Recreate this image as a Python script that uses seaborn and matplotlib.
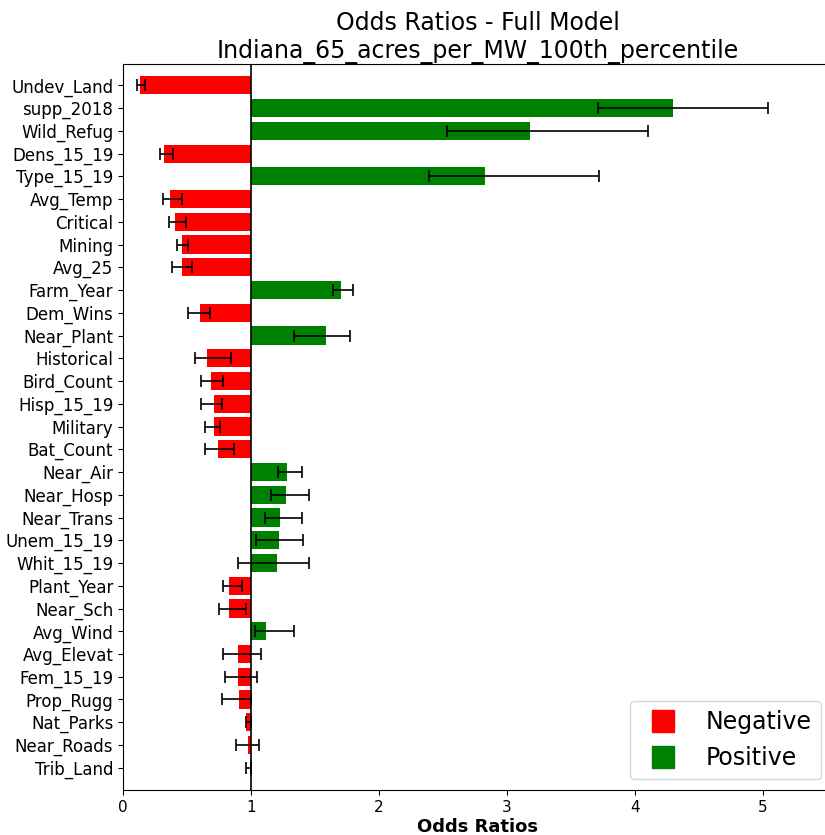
import matplotlib
matplotlib.use("Agg")
import matplotlib.pyplot as plt
from matplotlib.lines import Line2D
import numpy as np
import pandas as pd
import seaborn as sns

# Predictors, top to bottom
labels = ["Undev_Land", "supp_2018", "Wild_Refug", "Dens_15_19", "Type_15_19",
          "Avg_Temp", "Critical", "Mining", "Avg_25", "Farm_Year", "Dem_Wins",
          "Near_Plant", "Historical", "Bird_Count", "Hisp_15_19", "Military",
          "Bat_Count", "Near_Air", "Near_Hosp", "Near_Trans", "Unem_15_19",
          "Whit_15_19", "Plant_Year", "Near_Sch", "Avg_Wind", "Avg_Elevat",
          "Fem_15_19", "Prop_Rugg", "Nat_Parks", "Near_Roads", "Trib_Land"]

# Odds ratios and their confidence limits
odds = [0.13, 4.30, 3.18, 0.32, 2.83,
        0.37, 0.41, 0.46, 0.46, 1.70, 0.60,
        1.59, 0.66, 0.69, 0.71, 0.71,
        0.74, 1.28, 1.27, 1.23, 1.22,
        1.20, 0.83, 0.83, 1.12, 0.90,
        0.90, 0.91, 0.96, 0.98, 0.99]
ci_low = [0.11, 3.71, 2.53, 0.29, 2.39,
          0.31, 0.36, 0.42, 0.38, 1.64, 0.51,
          1.34, 0.56, 0.61, 0.61, 0.64,
          0.64, 1.21, 1.16, 1.11, 1.04,
          0.90, 0.78, 0.75, 1.03, 0.78,
          0.80, 0.77, 0.96, 0.88, 0.96]
ci_high = [0.17, 5.04, 4.10, 0.39, 3.72,
           0.46, 0.49, 0.51, 0.54, 1.80, 0.68,
           1.77, 0.84, 0.78, 0.77, 0.76,
           0.87, 1.40, 1.45, 1.40, 1.41,
           1.45, 0.93, 0.96, 1.34, 1.08,
           1.05, 1.00, 1.00, 1.06, 1.00]

df = pd.DataFrame({"label": labels, "odds": odds,
                   "low": ci_low, "high": ci_high})
df["effect"] = np.where(df["odds"] >= 1, "Positive", "Negative")
df["delta"] = df["odds"] - 1.0

palette = {"Negative": "red", "Positive": "green"}

fig = plt.figure(figsize=(8.25, 8.35), dpi=100)
ax = fig.add_axes([123 / 825, 45 / 835, 709 / 825, 726 / 835])

# Bars grow outward from an odds ratio of 1
sns.barplot(data=df, x="delta", y="label", hue="effect", palette=palette,
            order=labels, orient="h", errorbar=None, legend=False,
            width=0.8, saturation=1, left=1.0, ax=ax)

ypos = np.arange(len(labels))
ax.errorbar(df["odds"], ypos,
            xerr=[df["odds"] - df["low"], df["high"] - df["odds"]],
            fmt="none", ecolor="black", elinewidth=1.2, capsize=4,
            capthick=1.2)

ax.axvline(1.0, color="black", linewidth=1.2)

ax.set_xlim(0, 5.54)
ax.set_ylim(len(labels) - 0.02, -0.94)
ax.set_xticks([0, 1, 2, 3, 4, 5])
ax.spines["right"].set_visible(False)
ax.tick_params(axis="y", labelsize=12)
ax.tick_params(axis="x", labelsize=11)
ax.set_ylabel("")
ax.set_xlabel("Odds Ratios", fontsize=13, fontweight="bold", labelpad=2)
ax.set_title("Odds Ratios - Full Model\nIndiana_65_acres_per_MW_100th_percentile",
             fontsize=17, pad=3)

handles = [Line2D([], [], marker="s", linestyle="", color=palette[k],
                  markersize=16.5, label=k) for k in ["Negative", "Positive"]]
ax.legend(handles=handles, loc="lower right", fontsize=17,
          bbox_to_anchor=(1.0, 0.0), borderaxespad=0.45)

fig.savefig("out.png", dpi=100)
